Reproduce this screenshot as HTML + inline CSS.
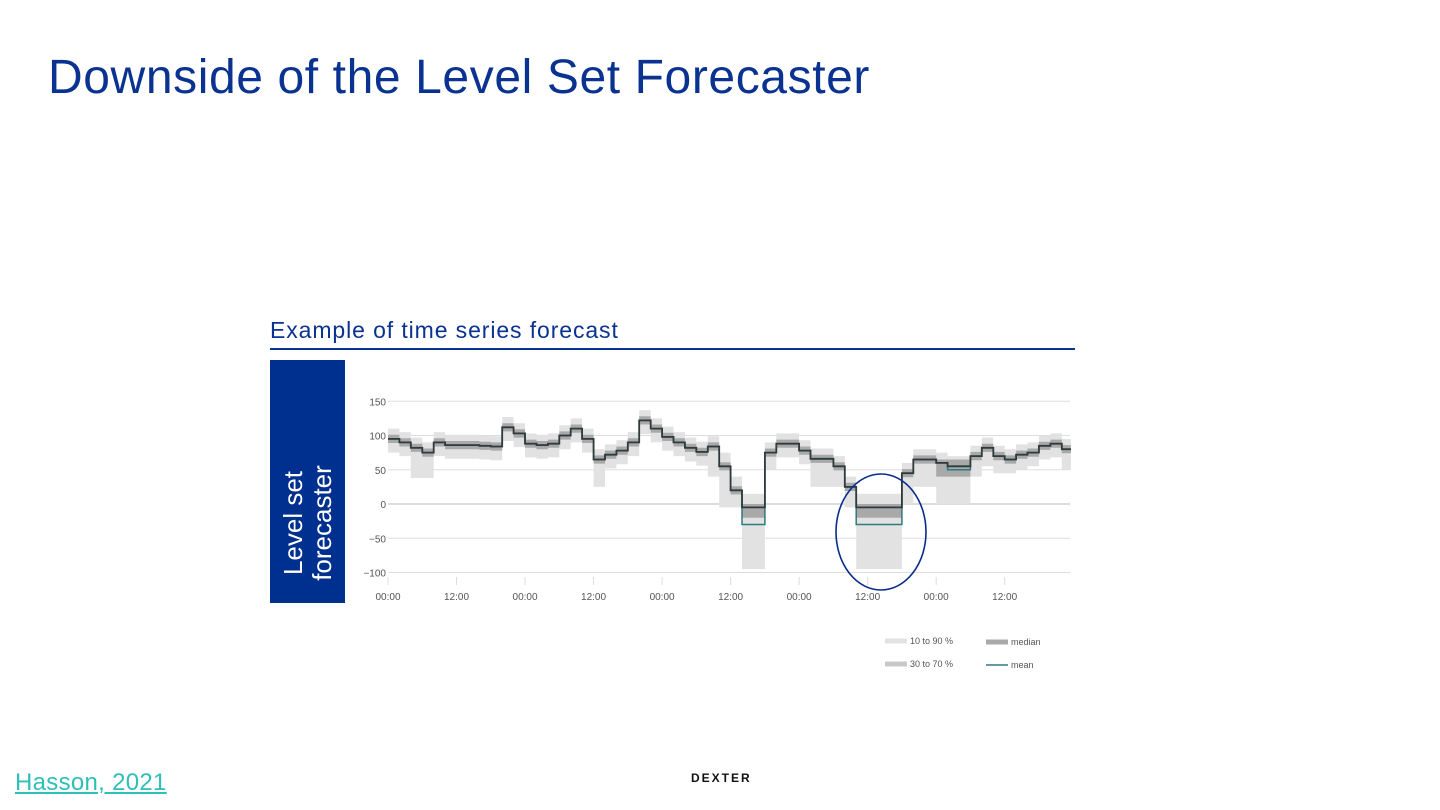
<!DOCTYPE html>
<html><head><meta charset="utf-8"><style>
body{margin:0;width:1440px;height:810px;background:#fff;position:relative;overflow:hidden;font-family:"Liberation Sans",sans-serif}
.abs{position:absolute}
</style></head><body>
<div class="abs" style="left:48px;top:50px;font-size:48px;color:#0a3291;font-weight:300;letter-spacing:0.6px">Downside of the Level Set Forecaster</div>
<div class="abs" style="left:270px;top:317px;font-size:23px;color:#0a3291;letter-spacing:0.9px">Example of time series forecast</div>
<div class="abs" style="left:270px;top:348px;width:805px;height:2px;background:#0a3291"></div>
<div class="abs" style="left:270px;top:360px;width:75px;height:243px;background:#00308f"></div>
<div class="abs" style="left:308px;top:523px;transform:translate(-50%,-50%) rotate(-90deg);color:#fff;font-size:26px;line-height:29px;text-align:center;white-space:nowrap">Level set<br>forecaster</div>
<svg class="abs" style="left:0;top:0" width="1440" height="810" id="chart"></svg>
<a class="abs" href="#" style="left:15px;top:769px;font-size:24px;color:#2ebfb7;text-decoration:underline;letter-spacing:0.3px">Hasson, 2021</a>
<div class="abs" style="left:691px;top:771px;font-size:12px;font-weight:bold;letter-spacing:2px;color:#111">DEXTER</div>
<script>
const hours=[0,2,4,6,8,10,12,14,16,18,20,22,24,26,28,30,32,34,36,38,40,42,44,46,48,50,52,54,56,58,60,62,64,66,68,70,72,74,76,78,80,82,84,86,88,90,92,94,96,98,100,102,104,106,108,110,112,114,116,118];
const median=[95,90,82,75,90,86,86,86,85,84,112,103,88,86,88,100,110,95,65,72,78,90,122,110,98,90,82,76,84,55,20,-5,-5,75,88,88,78,66,66,55,25,-5,-5,-5,-5,45,65,65,60,55,55,70,82,70,65,72,75,85,88,80];
const mean=[95,90,82,75,90,86,86,86,85,84,112,103,88,86,88,100,110,95,65,72,78,90,122,110,98,90,82,76,84,55,20,-30,-30,75,88,88,78,66,66,55,25,-30,-30,-30,-30,45,65,65,60,50,50,70,82,70,65,72,75,85,88,80];
const hi90=[110,105,97,90,105,101,101,101,100,99,127,118,103,101,103,115,125,110,80,87,93,105,137,125,113,105,97,91,99,75,40,15,15,90,103,103,93,81,81,70,40,15,15,15,15,60,80,80,75,70,70,85,97,85,80,87,90,100,103,95];
const lo90=[75,70,38,38,70,66,66,66,65,64,92,83,68,66,68,80,90,75,25,52,58,70,102,90,78,70,62,56,40,-5,-5,-95,-95,50,68,68,58,25,25,25,-5,-95,-95,-95,-95,0,25,25,0,0,0,40,55,45,45,50,55,65,68,50];
const hi70=[101,96,88,81,96,92,92,92,91,90,118,109,94,92,94,106,116,101,71,78,84,96,128,116,104,96,88,82,90,61,26,0,0,81,94,94,84,72,72,61,31,0,0,0,0,51,71,71,65,65,65,76,88,76,71,78,81,91,94,86];
const lo70=[89,84,76,69,84,80,80,80,79,78,106,97,82,80,82,94,104,89,59,66,72,84,116,104,92,84,76,70,78,49,14,-20,-20,69,82,82,72,60,60,49,19,-20,-20,-20,-20,39,59,59,40,40,40,64,76,64,59,66,69,79,82,74];
const yTicks=[150,100,50,0,-50,-100];
const xTickHours=[0,12,24,36,48,60,72,84,96,108];
const xTickLabels=["00:00","12:00","00:00","12:00","00:00","12:00","00:00","12:00","00:00","12:00"];
const legendLabels=["10 to 90 %","30 to 70 %","median","mean"];
const svg=document.getElementById('chart');const NS='http://www.w3.org/2000/svg';
const X=h=>388+h*5.71, Y=v=>504-v*0.685, END=119.6;
function mk(t,a){const e=document.createElementNS(NS,t);for(const k in a)e.setAttribute(k,a[k]);svg.appendChild(e);return e;}
yTicks.forEach(v=>{const l=mk('line',{x1:388,x2:1070,y1:Y(v),y2:Y(v),stroke:v===0?'#bbb':'#ddd','stroke-width':1});

const t=mk('text',{x:386,y:Y(v)+4,'text-anchor':'end','font-size':10,fill:'#555','font-family':'Liberation Sans'});t.textContent=String(v).replace('-','−');
});
xTickHours.forEach((h,i)=>{const t=mk('text',{x:X(h),y:600,'text-anchor':'middle','font-size':10,fill:'#555','font-family':'Liberation Sans'});t.textContent=xTickLabels[i];

const tk=mk('line',{x1:X(h),x2:X(h),y1:577,y2:585,stroke:'#ddd'});});
function stepPts(arr){let p=[];arr.forEach((v,i)=>{const x0=X(hours[i]),x1=X(i<hours.length-1?hours[i+1]:END);p.push([x0,Y(v)],[x1,Y(v)]);});return p;}
function band(hi,lo,fill,name){const a=stepPts(hi),b=stepPts(lo).reverse();const d='M'+a.concat(b).map(p=>p[0].toFixed(1)+','+p[1].toFixed(1)).join('L')+'Z';
const e=mk('path',{d:d,fill:fill});}
function line(arr,stroke,w,name){const d='M'+stepPts(arr).map(p=>p[0].toFixed(1)+','+p[1].toFixed(1)).join('L');
const e=mk('path',{d:d,fill:'none',stroke:stroke,'stroke-width':w});}
band(hi90,lo90,'#e2e2e2','band-10-90');
band(hi70,lo70,'#a9a9a9','band-30-70');
line(mean,'#2f7a80',1.5,'mean-line');
line(median,'#2e3a3c',1.8,'median-line');
const el=mk('ellipse',{cx:881,cy:532,rx:45,ry:58,fill:'none',stroke:'#0a2d8c','stroke-width':1.6});

const lg=[[885,641,'#e2e2e2',5],[885,664,'#c8c8c8',5],[986,642,'#a9a9a9',5],[986,665,'#2f7a80',1.5]];
lg.forEach((g,i)=>{const r=mk('rect',{x:g[0],y:g[1]-g[3]/2,width:22,height:g[3],fill:g[2]});
const t=mk('text',{x:g[0]+25,y:g[1]+3,'font-size':9,fill:'#555','font-family':'Liberation Sans'});t.textContent=legendLabels[i];
});
</script>
</body></html>
